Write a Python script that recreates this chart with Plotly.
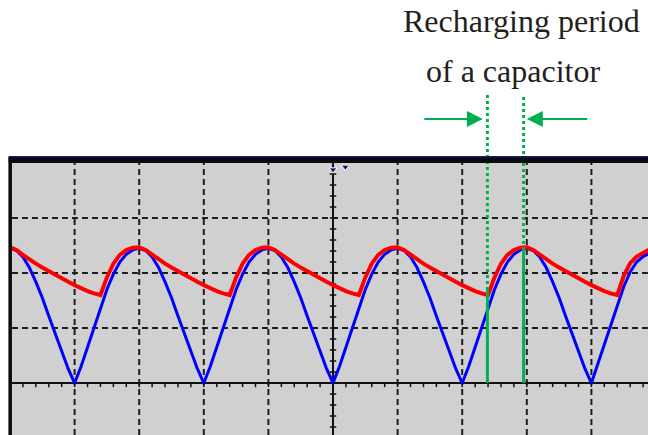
import numpy as np
import plotly.graph_objects as go

# time base in screen divisions (0 = centre line), one sample every 0.1 div
t = np.round(np.arange(-5.0, 4.95, 0.1), 2)

# full-wave rectified voltage (blue) in divisions
rectified = [
    2.45,
    2.41, 2.29, 2.10, 1.84, 1.55, 1.22, 0.90, 0.58, 0.26, 0.00,
    0.30, 0.65, 1.00, 1.38, 1.70, 1.98, 2.20, 2.34, 2.42, 2.45,
    2.41, 2.29, 2.10, 1.84, 1.55, 1.22, 0.90, 0.58, 0.26, 0.00,
    0.30, 0.65, 1.00, 1.38, 1.70, 1.98, 2.20, 2.34, 2.42, 2.45,
    2.41, 2.29, 2.10, 1.84, 1.55, 1.22, 0.90, 0.58, 0.26, 0.00,
    0.30, 0.65, 1.00, 1.38, 1.70, 1.98, 2.20, 2.34, 2.42, 2.45,
    2.41, 2.29, 2.10, 1.84, 1.55, 1.22, 0.90, 0.58, 0.26, 0.00,
    0.30, 0.65, 1.00, 1.38, 1.70, 1.98, 2.20, 2.34, 2.42, 2.45,
    2.41, 2.29, 2.10, 1.84, 1.55, 1.22, 0.90, 0.58, 0.26, 0.00,
    0.35, 0.68, 1.03, 1.40, 1.75, 2.02, 2.20, 2.30, 2.36,
]

# capacitor voltage (red)
capacitor = [
    2.47, 2.42, 2.33, 2.24, 2.17, 2.10, 2.03, 1.96, 1.90, 1.84,
    1.78, 1.72, 1.67, 1.63, 1.60, 1.92, 2.17, 2.33, 2.42, 2.46,
    2.47, 2.42, 2.33, 2.24, 2.17, 2.10, 2.03, 1.96, 1.90, 1.84,
    1.78, 1.72, 1.67, 1.63, 1.60, 1.92, 2.17, 2.33, 2.42, 2.46,
    2.47, 2.42, 2.33, 2.24, 2.17, 2.10, 2.03, 1.96, 1.90, 1.84,
    1.78, 1.72, 1.67, 1.63, 1.60, 1.92, 2.17, 2.33, 2.42, 2.46,
    2.47, 2.42, 2.33, 2.24, 2.17, 2.10, 2.03, 1.96, 1.90, 1.84,
    1.78, 1.72, 1.67, 1.63, 1.60, 1.92, 2.17, 2.33, 2.42, 2.46,
    2.47, 2.42, 2.33, 2.24, 2.17, 2.10, 2.03, 1.96, 1.90, 1.84,
    1.78, 1.72, 1.67, 1.63, 1.60, 1.95, 2.18, 2.30, 2.37, 2.43,
]

# recharging window markers (green)
marker_x = [2.39, 2.95]
marker_solid_top = [1.69, 2.42]
marker_dotted_top = [5.29, 5.24]

label_lines = ["Recharging period", "of a capacitor"]

green = "#00b050"
grid_color = "#1e1e1e"
screen_gray = "#d0d0d0"

# whole figure is one coordinate system: 1 div = 64.6 px wide, 55 px tall
x_range = [-5.155, 4.876]
y_range = [-0.945, 6.964]
x_left, y_top = -4.97, 4.0

fig = go.Figure()

# scope screen
fig.add_shape(type="rect", x0=x_left, x1=x_range[1], y0=y_range[0], y1=y_top,
              fillcolor=screen_gray, line_width=0, layer="below")

for gx in [-4, -3, -2, -1, 1, 2, 3, 4]:
    fig.add_shape(type="line", x0=gx, x1=gx, y0=y_range[0], y1=y_top, layer="below",
                  line=dict(color=grid_color, width=2, dash="6px,4px"))
for gy in [1, 2, 3]:
    fig.add_shape(type="line", x0=x_left, x1=x_range[1], y0=gy, y1=gy, layer="below",
                  line=dict(color=grid_color, width=2, dash="6px,4px"))

# centre axes with minor ticks
fig.add_shape(type="line", x0=0, x1=0, y0=y_range[0], y1=y_top, layer="below",
              line=dict(color="#111111", width=2))
fig.add_shape(type="line", x0=x_left, x1=x_range[1], y0=0, y1=0, layer="below",
              line=dict(color="#111111", width=2))

tick_x, tick_y = [], []
for v in np.arange(-4.8, 4.85, 0.2):
    tick_x += [v, v, None]
    tick_y += [0, -0.075, None]
for v in np.arange(-0.8, 3.95, 0.2):
    tick_x += [-0.05, 0.05, None]
    tick_y += [v, v, None]
fig.add_trace(go.Scatter(x=tick_x, y=tick_y, mode="lines", hoverinfo="skip",
                         line=dict(color="#111111", width=1.5), showlegend=False))

# frame: thick black top bar and left border
fig.add_shape(type="rect", x0=x_left - 0.05, x1=x_range[1], y0=y_top, y1=4.11,
              fillcolor="#0a0a0a", line_width=0)
fig.add_shape(type="line", x0=x_left - 0.05, x1=x_range[1], y0=4.115, y1=4.115,
              line=dict(color="#1a1a70", width=1.5))
fig.add_shape(type="rect", x0=x_left - 0.055, x1=x_left, y0=y_range[0], y1=4.11,
              fillcolor="#0a0a0a", line_width=0)

# trigger markers
fig.add_trace(go.Scatter(x=[0, 0.19], y=[3.88, 3.93], mode="markers", hoverinfo="skip",
                         marker=dict(symbol="triangle-down", size=7, color="#10106a",
                                     line=dict(color="white", width=1)),
                         showlegend=False))

# signals
fig.add_trace(go.Scatter(x=t, y=rectified, mode="lines", name="rectified",
                         line=dict(color="#0000ff", width=3), showlegend=False))
fig.add_trace(go.Scatter(x=t, y=capacitor, mode="lines", name="capacitor",
                         line=dict(color="#ff0000", width=4), showlegend=False))

# recharging window
for mx, st, dt in zip(marker_x, marker_solid_top, marker_dotted_top):
    fig.add_trace(go.Scatter(x=[mx, mx], y=[0, st], mode="lines", hoverinfo="skip",
                             line=dict(color=green, width=3), showlegend=False))
    fig.add_trace(go.Scatter(x=[mx, mx], y=[st, dt], mode="lines", hoverinfo="skip",
                             line=dict(color=green, width=3, dash="3px,3px"),
                             showlegend=False))

arrow_y = 4.8
for tip, tail in [(2.32, 1.39), (3.0, 3.96)]:
    fig.add_annotation(x=tip, y=arrow_y, ax=tail, ay=arrow_y, xref="x", yref="y",
                       axref="x", ayref="y", text="", showarrow=True,
                       arrowhead=2, arrowsize=1.6, arrowwidth=2, arrowcolor=green)

label_font = dict(family="Liberation Serif, Times New Roman, serif", size=32, color="#231f20")
fig.add_annotation(x=2.91, y=6.58, text=label_lines[0], showarrow=False,
                   xref="x", yref="y", font=label_font)
fig.add_annotation(x=2.79, y=5.68, text=label_lines[1], showarrow=False,
                   xref="x", yref="y", font=label_font)

fig.update_layout(
    width=648, height=435,
    margin=dict(l=0, r=0, t=0, b=0),
    plot_bgcolor="white", paper_bgcolor="white",
    xaxis=dict(range=x_range, visible=False, fixedrange=True),
    yaxis=dict(range=y_range, visible=False, fixedrange=True),
    showlegend=False,
)

# drop the page's default body margin so the figure fills the window
fig.write_html("out.html", config={"displayModeBar": False},
               post_script="document.body.style.margin='0';document.body.style.overflow='hidden';")
